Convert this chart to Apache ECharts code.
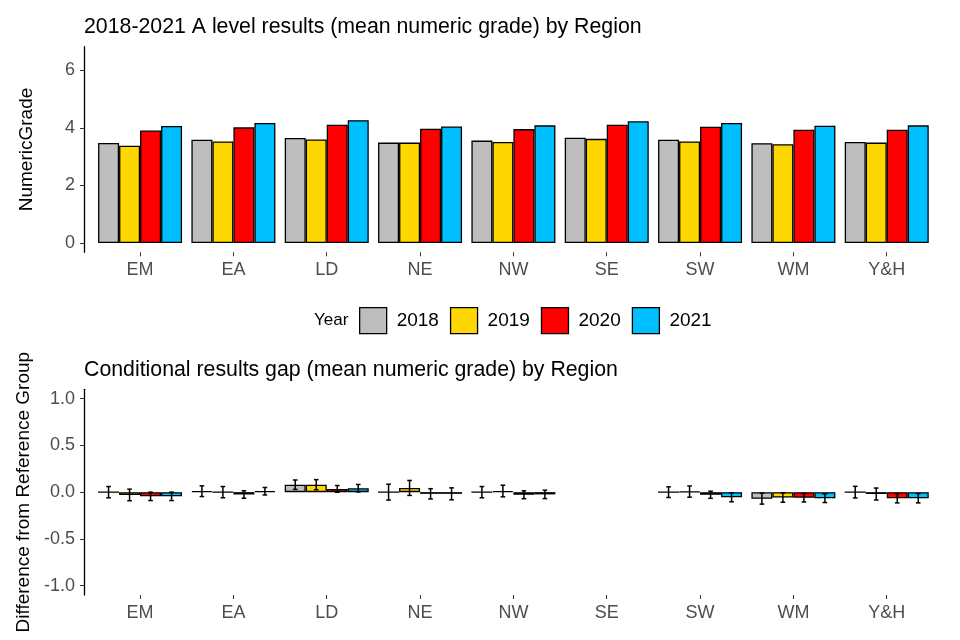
<!DOCTYPE html>
<html>
<head>
<meta charset="utf-8">
<script src="https://cdn.jsdelivr.net/npm/echarts@6/dist/echarts.min.js"></script>
<style>html,body{margin:0;padding:0;background:#fff}#c{width:960px;height:640px}</style>
</head>
<body>
<div id="c"></div>
<script>
const categories = ['EM','EA','LD','NE','NW','SE','SW','WM','Y&H'];
const years = ['2018','2019','2020','2021'];
const yearColors = ['#BEBEBE','#FFD700','#FF0000','#00BFFF'];

const grade2018 = [3.48,3.59,3.65,3.49,3.56,3.66,3.59,3.47,3.51];
const grade2019 = [3.38,3.53,3.60,3.49,3.51,3.62,3.53,3.43,3.49];
const grade2020 = [3.91,4.02,4.11,3.97,3.96,4.11,4.04,3.94,3.94];
const grade2021 = [4.07,4.17,4.27,4.05,4.09,4.23,4.17,4.08,4.09];

const diff2018 = [0.00, 0.01, 0.08, 0.00, 0.00, null, 0.00, -0.07, 0.00];
const diff2019 = [-0.03, 0.00, 0.08, 0.045, 0.012, null, 0.006, -0.058, -0.02];
const diff2020 = [-0.045, -0.025, 0.035, -0.018, -0.028, null, -0.028, -0.06, -0.065];
const diff2021 = [-0.045, 0.01, 0.042, -0.018, -0.024, null, -0.055, -0.065, -0.065];

const err2018 = [0.06, 0.057, 0.05, 0.085, 0.06, null, 0.057, 0.058, 0.062];
const err2019 = [0.062, 0.06, 0.054, 0.08, 0.062, null, 0.06, 0.05, 0.064];
const err2020 = [0.045, 0.04, 0.036, 0.055, 0.042, null, 0.038, 0.045, 0.05];
const err2021 = [0.045, 0.04, 0.04, 0.064, 0.045, null, 0.048, 0.046, 0.05];

const topTicks = [0, 2, 4, 6];
const bottomTicks = [-1, -0.5, 0, 0.5, 1];

const grades = [grade2018, grade2019, grade2020, grade2021];
const diffs = [diff2018, diff2019, diff2020, diff2021];
const errs = [err2018, err2019, err2020, err2021];

const FONT = "'Liberation Sans', Arial, Helvetica, sans-serif";

function xAxisCfg(gi) {
  return {
    type: 'category', gridIndex: gi, data: categories,
    axisLine: { show: false, onZero: false },
    axisTick: { show: true, alignWithLabel: true, length: 4, lineStyle: { color: '#333', width: 1 } },
    axisLabel: { color: '#4D4D4D', fontSize: 18, fontFamily: FONT, margin: 9 },
    splitLine: { show: false }
  };
}

const series = [];
years.forEach((y, i) => {
  series.push({
    name: y, type: 'bar', xAxisIndex: 0, yAxisIndex: 0,
    data: grades[i],
    barCategoryGap: '10%', barGap: '0%',
    itemStyle: { color: yearColors[i], borderColor: '#000', borderWidth: 1.3 },
    emphasis: { disabled: true }, z: 2
  });
});
years.forEach((y, i) => {
  const data = categories.map((c, k) => diffs[i][k] == null ? null : [k, diffs[i][k]]).filter(d => d != null);
  series.push({
    name: y, type: 'bar', xAxisIndex: 1, yAxisIndex: 1,
    data: data, encode: { x: 0, y: 1 },
    barCategoryGap: '10%', barGap: '0%',
    itemStyle: { color: yearColors[i], borderColor: '#000', borderWidth: 1.3 },
    emphasis: { disabled: true }, z: 2
  });
});
years.forEach((y, i) => {
  const data = [];
  categories.forEach((c, k) => {
    if (diffs[i][k] != null) data.push([k, diffs[i][k] - errs[i][k], diffs[i][k] + errs[i][k]]);
  });
  series.push({
    name: 'err' + y, type: 'custom', xAxisIndex: 1, yAxisIndex: 1,
    data: data, encode: { x: 0, y: [1, 2] }, z: 5, silent: true,
    renderItem: function (params, api) {
      const k = api.value(0);
      const lo = api.coord([k, api.value(1)]);
      const hi = api.coord([k, api.value(2)]);
      const band = api.size([1, 0])[0];
      const bw = band * 0.9 / 4;
      const x = lo[0] + (i - 1.5) * bw;
      const cap = bw * 0.11;
      const st = { stroke: '#000', lineWidth: 1.5 };
      return {
        type: 'group', children: [
          { type: 'line', shape: { x1: x, y1: lo[1], x2: x, y2: hi[1] }, style: st },
          { type: 'line', shape: { x1: x - cap, y1: lo[1], x2: x + cap, y2: lo[1] }, style: st },
          { type: 'line', shape: { x1: x - cap, y1: hi[1], x2: x + cap, y2: hi[1] }, style: st }
        ]
      };
    }
  });
});

const option = {
  animation: false,
  backgroundColor: '#fff',
  textStyle: { fontFamily: FONT },
  title: [
    { text: '2018-2021 A level results (mean numeric grade) by Region', left: 84, top: 17, padding: 0,
      textStyle: { fontSize: 21.3, fontWeight: 'normal', color: '#000', fontFamily: FONT } },
    { text: 'Conditional results gap (mean numeric grade) by Region', left: 84, top: 360, padding: 0,
      textStyle: { fontSize: 21.3, fontWeight: 'normal', color: '#000', fontFamily: FONT } }
  ],
  legend: {
    data: years, left: 359, top: 307, orient: 'horizontal', padding: 0,
    itemWidth: 27, itemHeight: 26, itemGap: 11, icon: 'rect',
    selectedMode: false,
    textStyle: { fontSize: 19, color: '#000', fontFamily: FONT, padding: [0, 0, 0, 5] },
    itemStyle: { borderColor: '#000', borderWidth: 1.3 }
  },
  graphic: [
    { type: 'text', x: 314, y: 320, style: { text: 'Year', fontSize: 17, fontFamily: FONT, fill: '#000', verticalAlign: 'middle', align: 'left' } }
  ],
  grid: [
    { left: 93.4, right: 26.6, top: 46.7, height: 205.6, containLabel: false },
    { left: 93.4, right: 26.6, top: 389.3, height: 205.7, containLabel: false }
  ],
  xAxis: [xAxisCfg(0), xAxisCfg(1)],
  yAxis: [
    {
      type: 'value', gridIndex: 0, min: -0.325, max: 6.825, offset: 9.4,
      name: 'NumericGrade', nameLocation: 'middle', nameGap: 48, nameRotate: 90,
      nameTextStyle: { fontSize: 19, color: '#000', fontFamily: FONT },
      axisLine: { show: true, lineStyle: { color: '#000', width: 1.3 } },
      axisTick: { show: true, length: 4, customValues: topTicks, lineStyle: { color: '#333' } },
      axisLabel: { customValues: topTicks, color: '#4D4D4D', fontSize: 18, fontFamily: FONT, margin: 9 },
      splitLine: { show: false }
    },
    {
      type: 'value', gridIndex: 1, min: -1.1, max: 1.1, offset: 9.4,
      name: 'Difference from Reference Group', nameLocation: 'middle', nameGap: 48, nameRotate: 90,
      nameTextStyle: { fontSize: 19, color: '#000', fontFamily: FONT },
      axisLine: { show: true, lineStyle: { color: '#000', width: 1.3 } },
      axisTick: { show: true, length: 4, customValues: bottomTicks, lineStyle: { color: '#333' } },
      axisLabel: { customValues: bottomTicks, color: '#4D4D4D', fontSize: 18, fontFamily: FONT, margin: 9,
        formatter: v => Number(v).toFixed(1) },
      splitLine: { show: false }
    }
  ],
  series: series
};

const chart = echarts.init(document.getElementById('c'), null, { renderer: 'canvas' });
chart.setOption(option);
</script>
</body>
</html>
